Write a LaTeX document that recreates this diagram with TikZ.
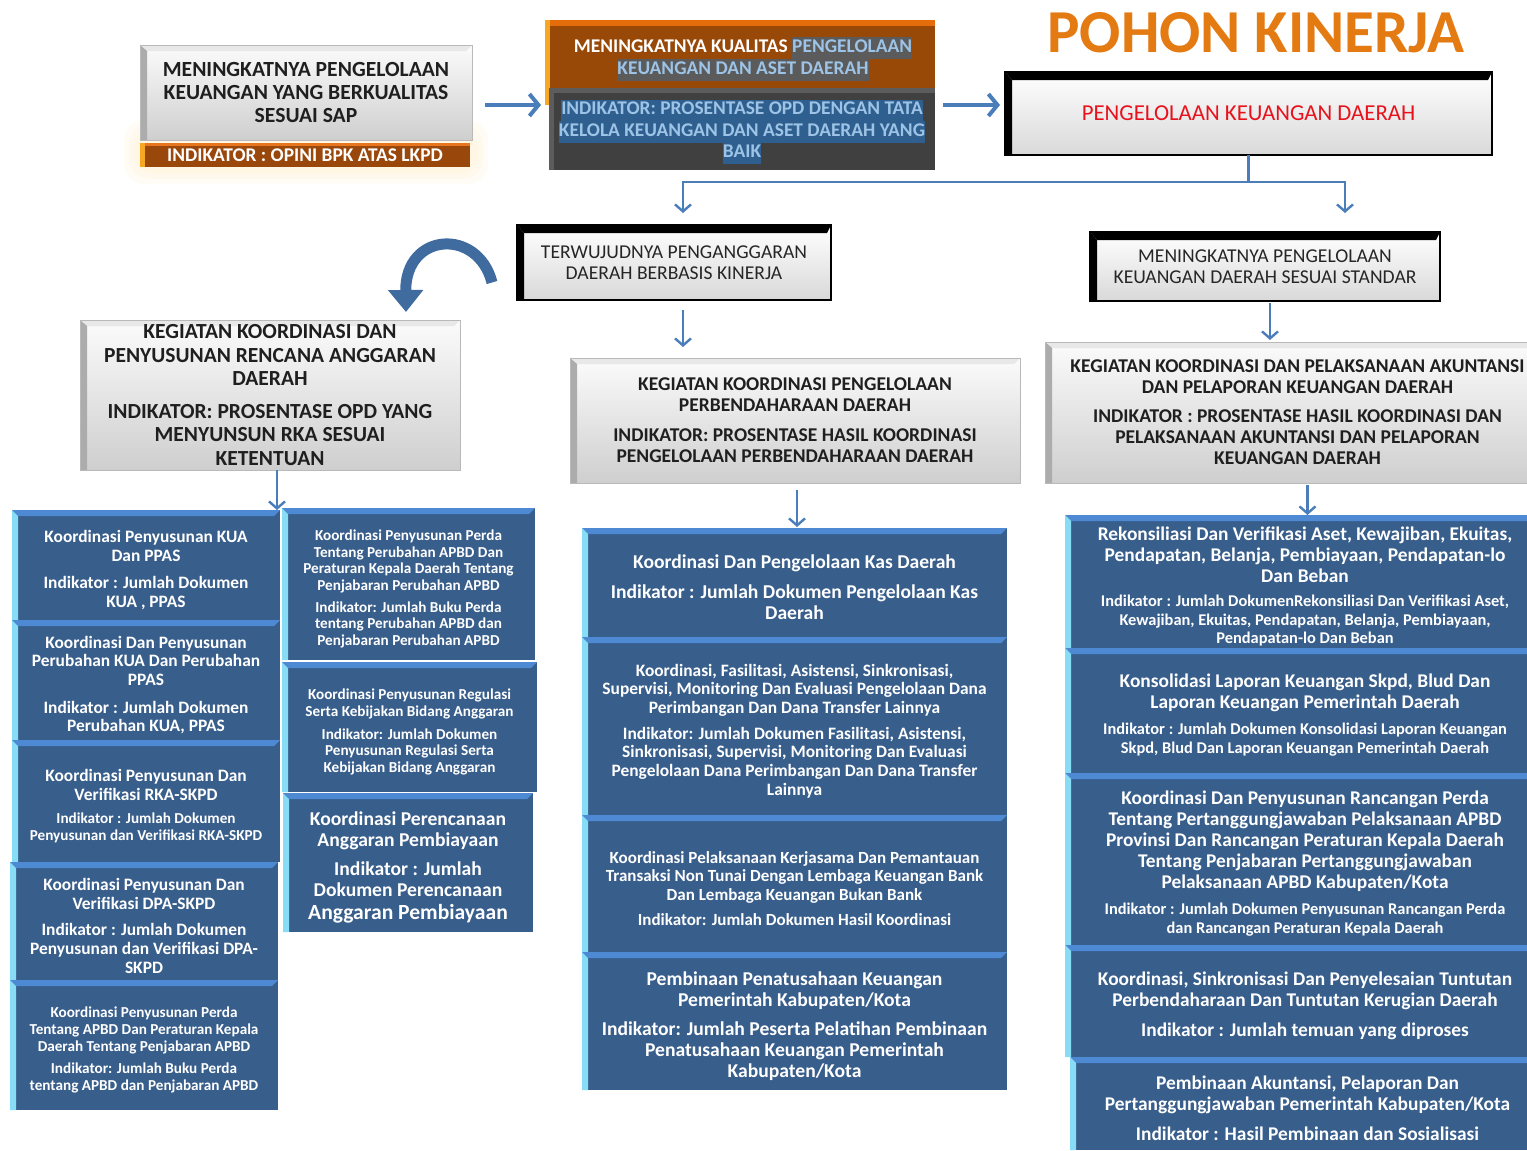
\documentclass[tikz,border=0pt]{standalone}
\usepackage{fontspec}
\setmainfont{Carlito}
\usetikzlibrary{fit,calc,arrows.meta}
\setlength\parindent{0pt}
\definecolor{bbody}{HTML}{385E8C}
\definecolor{btop}{HTML}{4E8AD4}
\definecolor{bleft}{HTML}{86DDF5}
\definecolor{arrblue}{HTML}{4A7EBB}
\definecolor{brownA}{HTML}{984807}
\definecolor{orangeTop}{HTML}{E46C0A}
\definecolor{yellowEdge}{HTML}{F7A823}
\definecolor{darkbox}{HTML}{404040}
\definecolor{darktop}{HTML}{5C5C5C}
\definecolor{hlgray}{HTML}{5B5B5B}
\definecolor{hlblue}{HTML}{2E5F8E}
\definecolor{hltext}{HTML}{9DC3E6}
\definecolor{titleorange}{HTML}{E47A12}
\definecolor{redtxt}{HTML}{E8121C}
\definecolor{barfill}{HTML}{9A470B}
\definecolor{bartop}{HTML}{E8761E}
\newcommand\fz[2]{\fontsize{#1}{#2}\selectfont}
\newcommand\hlg[1]{{\setlength\fboxsep{0pt}\colorbox{hlgray}{\strut\textcolor{hltext}{#1}}}}
\newcommand\hlb[1]{{\setlength\fboxsep{0pt}\colorbox{hlblue}{\strut\textcolor{hltext}{#1}}}}
\newcommand\mkbox[7]{%
  \pgfmathsetmacro\boxtw{(#5-#3-8)*0.5}%
  \node[#1, fit={(#3,#4) (#5,#6)}] (#2) {};
  \node[#1 txt] (#2t) at (#2.center) {\parbox{\boxtw pt}{\centering #7\par}};}
\tikzset{
  x=0.5pt, y=-0.5pt,
  basebox/.style={inner sep=0pt, outer sep=0pt},
  basetxt/.style={inner sep=0pt, outer sep=0pt, anchor=center},
  bluebox txt/.style={basetxt, text=white, font=\bfseries, yshift=-2.5pt},
  graybox txt/.style={basetxt, text=black!88, font=\bfseries},
  blackbox txt/.style={basetxt, text=black!85},
  barbox txt/.style={basetxt, text=white, font=\bfseries},
  darkbox txt/.style={basetxt, font=\bfseries, yshift=-1.5pt},
  bluebox/.style={basebox, fill=bbody,
    path picture={
      \fill[btop] (path picture bounding box.north west) -- (path picture bounding box.north east)
        -- ([xshift=-3pt,yshift=-3pt]path picture bounding box.north east)
        -- ([xshift=3pt,yshift=-3pt]path picture bounding box.north west) -- cycle;
      \fill[bleft] (path picture bounding box.north west) -- ([xshift=3pt,yshift=-3pt]path picture bounding box.north west)
        -- ([xshift=3pt]path picture bounding box.south west) -- (path picture bounding box.south west) -- cycle;}},
  graybox/.style={basebox, top color=gray!3, bottom color=gray!38, draw=gray!55, line width=0.4pt,
    path picture={
      \fill[gray!18] (path picture bounding box.north west) -- (path picture bounding box.north east)
        -- ([xshift=-3pt,yshift=-3pt]path picture bounding box.north east)
        -- ([xshift=3pt,yshift=-3pt]path picture bounding box.north west) -- cycle;
      \fill[gray!65] (path picture bounding box.north west) -- ([xshift=3.5pt,yshift=-3pt]path picture bounding box.north west)
        -- ([xshift=3.5pt]path picture bounding box.south west) -- (path picture bounding box.south west) -- cycle;}},
  blackbox/.style={basebox, top color=white, bottom color=gray!30, draw=black, line width=0.8pt,
    path picture={
      \fill[black] (path picture bounding box.north west) -- (path picture bounding box.north east)
        -- ([xshift=-2pt,yshift=-4pt]path picture bounding box.north east)
        -- ([xshift=3.5pt,yshift=-4pt]path picture bounding box.north west) -- cycle;
      \fill[black] (path picture bounding box.north west) -- ([xshift=3.5pt,yshift=-4pt]path picture bounding box.north west)
        -- ([xshift=3.5pt]path picture bounding box.south west) -- (path picture bounding box.south west) -- cycle;}},
  barbox/.style={basebox, fill=barfill,
    path picture={
      \fill[bartop] (path picture bounding box.north west) rectangle ([yshift=-1.5pt]path picture bounding box.north east);
      \fill[yellowEdge] (path picture bounding box.north west) rectangle ([xshift=2.5pt]path picture bounding box.south west);}},
  brownbox/.style={basebox, fill=brownA,
    path picture={
      \fill[orangeTop] (path picture bounding box.north west) rectangle ([yshift=-3pt]path picture bounding box.north east);
      \fill[yellowEdge] (path picture bounding box.north west) rectangle ([xshift=2.5pt]path picture bounding box.south west);}},
  darkbox/.style={basebox, fill=darkbox,
    path picture={
      \fill[darktop] (path picture bounding box.north west) rectangle ([yshift=-2.5pt]path picture bounding box.north east);
      \fill[darktop] (path picture bounding box.north west) rectangle ([xshift=2.5pt]path picture bounding box.south west);}},
  arr/.style={draw=arrblue, line width=2pt, -{Straight Barb[length=4.5pt,width=11pt]}},
  varr/.style={draw=arrblue, line width=1.2pt, -{Straight Barb[length=3.5pt,width=8pt]}},
  conn/.style={draw=arrblue, line width=1.2pt},
  curv/.style={draw=arrblue!85!black, line width=5.5pt, -{Triangle[length=11pt,width=17pt]}}
}
\begin{document}
\begin{tikzpicture}
\useasboundingbox (0,0) rectangle (1527,1151);
\fill[white] (0,0) rectangle (1527,1151);
\clip (0,0) rectangle (1527,1151);

% glow behind top-left box
\foreach \g in {0,5,10}{
  \fill[orange!60!yellow, opacity=0.035, rounded corners=10pt] (124+\g,120+\g) rectangle (488-\g,184-\g);
}

% title
\node[font=\bfseries\fz{30.5}{32}, text=titleorange, inner sep=0pt] (title) at (1256,33) {POHON KINERJA};

% top row
\mkbox{graybox}{b1}{140}{45}{472}{140}{\fz{10.8}{11.7}MENINGKATNYA PENGELOLAAN\\KEUANGAN YANG BERKUALITAS\\SESUAI SAP}
\mkbox{barbox}{b1ind}{140}{143}{470}{167}{\fz{9.7}{10.5}INDIKATOR : OPINI BPK ATAS LKPD}

\node[brownbox, fit={(545,20) (935,105)}] (b2) {};
\node[font=\bfseries\fz{9.7}{10.75}, text=white, align=center, inner sep=0pt] (b2t) at (743,59)
  {MENINGKATNYA KUALITAS \hlg{PENGELOLAAN}\\\hlg{KEUANGAN DAN ASET DAERAH}};
\mkbox{darkbox}{b2i}{549}{88}{935}{170}{\fz{9.7}{10.75}\hlb{INDIKATOR: PROSENTASE OPD DENGAN TATA}\\\hlb{KELOLA KEUANGAN DAN ASET DAERAH YANG}\\\hlb{BAIK}}

\mkbox{blackbox}{pk}{1005}{72}{1492}{155}{\fz{11.4}{12}\textcolor{redtxt}{PENGELOLAAN KEUANGAN DAERAH}}

% second level
\mkbox{blackbox}{t1}{517}{225}{831}{300}{\fz{9.8}{10.5}TERWUJUDNYA PENGANGGARAN\\DAERAH BERBASIS KINERJA}
\mkbox{blackbox}{t2}{1090}{232}{1440}{301}{\fz{9.8}{10.5}MENINGKATNYA PENGELOLAAN\\KEUANGAN DAERAH SESUAI STANDAR}

% third level
\mkbox{graybox}{g1}{80}{320}{460}{470}{\fz{10.75}{11.75}KEGIATAN KOORDINASI DAN\\PENYUSUNAN RENCANA ANGGARAN\\DAERAH\par\vspace{4.5pt}INDIKATOR: PROSENTASE OPD YANG\\MENYUNSUN RKA SESUAI\\KETENTUAN}
\mkbox{graybox}{g2}{570}{358}{1020}{483}{\fz{9.75}{10.5}KEGIATAN KOORDINASI PENGELOLAAN\\PERBENDAHARAAN DAERAH\par\vspace{4.5pt}INDIKATOR: PROSENTASE HASIL KOORDINASI\\PENGELOLAAN PERBENDAHARAAN DAERAH}
\mkbox{graybox}{g3}{1045}{342}{1550}{483}{\fz{9.75}{10.5}KEGIATAN KOORDINASI DAN PELAKSANAAN AKUNTANSI\\DAN PELAPORAN KEUANGAN DAERAH\par\vspace{4pt}INDIKATOR : PROSENTASE HASIL KOORDINASI DAN\\PELAKSANAAN AKUNTANSI DAN PELAPORAN\\KEUANGAN DAERAH}

% column A
\mkbox{bluebox}{A1}{12}{510}{280}{620}{\fz{8.7}{9.3}Koordinasi Penyusunan KUA\\Dan PPAS\par\vspace{4.5pt}Indikator : Jumlah Dokumen\\KUA , PPAS}
\mkbox{bluebox}{A2}{12}{620}{280}{740}{\fz{8.7}{9.3}Koordinasi Dan Penyusunan\\Perubahan KUA Dan Perubahan\\PPAS\par\vspace{4.5pt}Indikator : Jumlah Dokumen\\Perubahan KUA, PPAS}
\mkbox{bluebox}{A3}{12}{740}{280}{862}{\fz{8.7}{9.2}Koordinasi Penyusunan Dan\\Verifikasi RKA-SKPD\par\vspace{3pt}\fz{7.6}{8.5}Indikator : Jumlah Dokumen\\Penyusunan dan Verifikasi RKA-SKPD}
\mkbox{bluebox}{A4}{10}{862}{278}{980}{\fz{8.7}{9.4}Koordinasi Penyusunan Dan\\Verifikasi DPA-SKPD\par\vspace{3.5pt}Indikator : Jumlah Dokumen\\Penyusunan dan Verifikasi DPA-\\SKPD}
\mkbox{bluebox}{A5}{10}{980}{278}{1110}{\fz{7.6}{8.4}Koordinasi Penyusunan Perda\\Tentang APBD Dan Peraturan Kepala\\Daerah Tentang Penjabaran APBD\par\vspace{3pt}Indikator:  Jumlah Buku Perda\\tentang APBD dan Penjabaran APBD}

% column B
\mkbox{bluebox}{B1}{282}{508}{535}{660}{\fz{7.6}{8.25}Koordinasi Penyusunan Perda\\Tentang Perubahan APBD Dan\\Peraturan Kepala Daerah Tentang\\Penjabaran  Perubahan APBD\par\vspace{2.8pt}Indikator:  Jumlah Buku Perda\\tentang Perubahan APBD dan\\Penjabaran Perubahan APBD}
\mkbox{bluebox}{B2}{282}{662}{537}{792}{\fz{7.6}{8.3}Koordinasi Penyusunan Regulasi\\Serta Kebijakan Bidang Anggaran\par\vspace{3pt}Indikator: Jumlah Dokumen\\Penyusunan Regulasi Serta\\Kebijakan Bidang Anggaran}
\mkbox{bluebox}{B3}{283}{793}{533}{932}{\fz{9.8}{10.5}Koordinasi Perencanaan\\Anggaran Pembiayaan\par\vspace{4pt}Indikator : Jumlah\\Dokumen Perencanaan\par\fz{10.8}{11.5}Anggaran Pembiayaan}

% column C
\mkbox{bluebox}{C1}{582}{528}{1007}{637}{\fz{9.8}{10.5}Koordinasi Dan Pengelolaan Kas Daerah\par\vspace{4.5pt}Indikator : Jumlah Dokumen Pengelolaan Kas\\Daerah}
\mkbox{bluebox}{C2}{582}{637}{1007}{815}{\fz{8.7}{9.35}Koordinasi, Fasilitasi,  Asistensi, Sinkronisasi,\\Supervisi, Monitoring Dan Evaluasi Pengelolaan Dana\\Perimbangan Dan Dana Transfer Lainnya\par\vspace{3.5pt}Indikator: Jumlah Dokumen Fasilitasi,  Asistensi,\\Sinkronisasi, Supervisi, Monitoring Dan Evaluasi\\Pengelolaan Dana Perimbangan Dan Dana Transfer\\Lainnya}
\mkbox{bluebox}{C3}{582}{815}{1007}{952}{\fz{8.5}{9.3}Koordinasi Pelaksanaan Kerjasama Dan Pemantauan\\Transaksi Non Tunai Dengan Lembaga Keuangan Bank\\Dan Lembaga Keuangan Bukan Bank\par\vspace{3.5pt}Indikator: Jumlah Dokumen Hasil Koordinasi}
\mkbox{bluebox}{C4}{582}{952}{1007}{1090}{\fz{9.8}{10.5}Pembinaan Penatusahaan Keuangan\\Pemerintah Kabupaten/Kota\par\vspace{4pt}Indikator: Jumlah Peserta Pelatihan Pembinaan\\Penatusahaan Keuangan Pemerintah\\Kabupaten/Kota}

% column D
\mkbox{bluebox}{D1}{1065}{515}{1545}{648}{\fz{9.7}{10.5}Rekonsiliasi Dan Verifikasi Aset, Kewajiban, Ekuitas,\\Pendapatan, Belanja, Pembiayaan, Pendapatan-lo\\Dan Beban\par\vspace{3pt}\fz{8.2}{9.3}Indikator : Jumlah DokumenRekonsiliasi Dan Verifikasi Aset,\\Kewajiban, Ekuitas, Pendapatan, Belanja, Pembiayaan,\\Pendapatan-lo Dan Beban}
\mkbox{bluebox}{D2}{1065}{648}{1545}{773}{\fz{9.7}{10.5}Konsolidasi Laporan Keuangan Skpd, Blud Dan\\Laporan Keuangan Pemerintah Daerah\par\vspace{3.5pt}\fz{8.2}{9.5}Indikator : Jumlah Dokumen Konsolidasi Laporan Keuangan\\Skpd, Blud Dan Laporan Keuangan Pemerintah Daerah}
\mkbox{bluebox}{D3}{1065}{773}{1545}{945}{\fz{9.7}{10.5}Koordinasi Dan Penyusunan Rancangan Perda\\Tentang Pertanggungjawaban Pelaksanaan APBD\\Provinsi Dan Rancangan Peraturan Kepala Daerah\\Tentang Penjabaran Pertanggungjawaban\\Pelaksanaan APBD Kabupaten/Kota\par\vspace{3.5pt}\fz{8.2}{9.5}Indikator : Jumlah Dokumen Penyusunan Rancangan Perda\\dan Rancangan Peraturan Kepala Daerah}
\mkbox{bluebox}{D4}{1065}{945}{1545}{1057}{\fz{9.7}{10.5}Koordinasi, Sinkronisasi Dan Penyelesaian Tuntutan\\Perbendaharaan Dan Tuntutan Kerugian Daerah\par\vspace{4.5pt}Indikator : Jumlah temuan yang diproses}
\mkbox{bluebox}{D5}{1070}{1057}{1545}{1150}{\fz{9.7}{10.5}Pembinaan Akuntansi, Pelaporan Dan\\Pertanggungjawaban Pemerintah Kabupaten/Kota\par\vspace{4.5pt}Indikator : Hasil Pembinaan dan Sosialisasi}

% connectors
\draw[arr] ($(b1.east)+(13,12.5)$) -- ($(b1.east -| b2i.west)+(-8,12.5)$);
\draw[arr] ($(b2i.east)+(8,-24)$) -- ($(b2i.east -| pk.west)+(-5,-24)$);
\draw[conn] (pk.south) -- ++(0,27) coordinate (junc);
\draw[varr] (junc) -| ($(t1.north)+(9,-12)$);
\draw[varr] (junc) -| ($(t2.north)+(80,-19)$);
\draw[varr] ($(t1.south)+(9,10)$) -- ($(t1.south |- g2.north)+(9,-11)$);
\draw[varr] ($(t2.south)+(5,2)$) -- ($(t2.south |- g3.north)+(5,-2)$);
\draw[varr] ($(g1.south)+(7,0)$) -- ($(g1.south |- A1.north)+(7,0)$);
\draw[varr] ($(g2.south)+(2,7)$) -- ($(g2.south |- C1.north)+(2,-1)$);
\draw[varr] ($(g3.south)+(10,2)$) -- ($(g3.south |- D1.north)+(10,0)$);
\draw[curv] ($(t1.west)+(-25,20)$) .. controls ($(t1.west)+(-39,-35)$) and ($(g1.north)+(135,-88)$) .. ($(g1.north)+(136,-8)$);
\end{tikzpicture}
\end{document}
